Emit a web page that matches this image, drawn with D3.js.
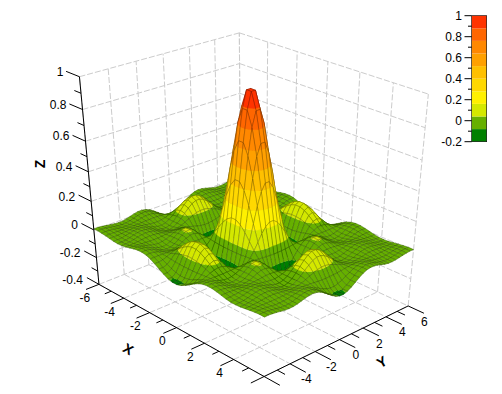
<!DOCTYPE html>
<html><head><meta charset="utf-8"><script src="https://cdn.jsdelivr.net/npm/d3@7"></script>
<style>html,body{margin:0;padding:0;background:#fff}svg{display:block}text{font-family:"Liberation Sans",Helvetica,Arial,sans-serif;fill:#000}</style></head>
<body><div id="c"></div>
<script>
// Surface heights (z x 1000), one quadrant; the surface is mirrored about x=0 and y=0.
const zQuadrant=[
[972,867,677,438,194,-12,-152,-212,-196,-127,-34,53,111,126,101,49,-12,-63,-88,-84],
[867,773,603,390,173,-11,-136,-189,-175,-113,-30,48,99,112,90,43,-11,-56,-79,-75],
[677,603,471,305,135,-9,-106,-147,-137,-88,-23,37,77,88,70,34,-9,-44,-61,-58],
[438,390,305,197,87,-6,-68,-95,-88,-57,-15,24,50,57,46,22,-6,-28,-40,-38],
[194,173,135,87,39,-2,-30,-42,-39,-25,-7,11,22,25,20,10,-2,-13,-18,-17],
[-12,-11,-9,-6,-2,0,2,3,2,2,0,-1,-1,-2,-1,-1,0,1,1,1],
[-152,-136,-106,-68,-30,2,24,33,31,20,5,-8,-17,-20,-16,-8,2,10,14,13],
[-212,-189,-147,-95,-42,3,33,46,43,28,7,-12,-24,-27,-22,-11,3,14,19,18],
[-196,-175,-137,-88,-39,2,31,43,40,26,7,-11,-22,-25,-20,-10,2,13,18,17],
[-127,-113,-88,-57,-25,2,20,28,26,17,4,-7,-14,-17,-13,-6,2,8,12,11],
[-34,-30,-23,-15,-7,0,5,7,7,4,1,-2,-4,-4,-4,-2,0,2,3,3],
[53,48,37,24,11,-1,-8,-12,-11,-7,-2,3,6,7,6,3,-1,-3,-5,-5],
[111,99,77,50,22,-1,-17,-24,-22,-14,-4,6,13,14,12,6,-1,-7,-10,-10],
[126,112,88,57,25,-2,-20,-27,-25,-17,-4,7,14,16,13,6,-2,-8,-11,-11],
[101,90,70,46,20,-1,-16,-22,-20,-13,-4,6,12,13,11,5,-1,-7,-9,-9],
[49,43,34,22,10,-1,-8,-11,-10,-6,-2,3,6,6,5,2,-1,-3,-4,-4],
[-12,-11,-9,-6,-2,0,2,3,2,2,0,-1,-1,-2,-1,-1,0,1,1,1],
[-63,-56,-44,-28,-13,1,10,14,13,8,2,-3,-7,-8,-7,-3,1,4,6,5],
[-88,-79,-61,-40,-18,1,14,19,18,12,3,-5,-10,-11,-9,-4,1,6,8,8],
[-84,-75,-58,-38,-17,1,13,18,17,11,3,-5,-10,-11,-9,-4,1,5,8,7]];
const colorLevels=[-.2,-.08,.04,.16,.28,.4,.52,.64,.76,.88,1];
const bandColors=["#008000","#66b000","#d4e800","#fff000","#ffd800","#ffc000","#ffa000","#ff8800","#ff6600","#ff3300"];
const xyMajorTicks=[-6,-4,-2,0,2,4,6];
const xyMinorTicks=[-5,-3,-1,1,3,5];
const xLabels=[-6,-4,-2,0,2,4];
const yLabels=[-4,-2,0,2,4,6];
const zMajorTicks=[-.4,-.2,0,.2,.4,.6,.8,1];
const zMinorTicks=[-.3,-.1,.1,.3,.5,.7,.9];
const barMajorTicks=[-.2,0,.2,.4,.6,.8,1];
const barMinorTicks=[-.1,.1,.3,.5,.7,.9];

const W=502,H=394,N=40;
const cam=[70.662,85.252,-21.286,251.196,25.578,-18.926,-162.011,240.103,-0.06042,0.04512,-0.08397];
const unit=d3.scaleLinear().domain([-6,6]).range([-1,1]);
const gridX=d3.scaleLinear().domain([0,N-1]).range([-6,6]);
const fold=i=>i<N/2?N/2-1-i:i-N/2;
const zAt=(i,j)=>zQuadrant[fold(i)][fold(j)]/1000;
function proj(x,y,z){const X=unit(x),Y=unit(y),w=cam[8]*X+cam[9]*Y+cam[10]*z+1;return [(cam[0]*X+cam[1]*Y+cam[2]*z+cam[3])/w,(cam[4]*X+cam[5]*Y+cam[6]*z+cam[7])/w];}
const svg=d3.select("#c").append("svg").attr("width",W).attr("height",H);
const line=d3.line();
const bandColor=d3.scaleThreshold().domain(colorLevels.slice(1,-1)).range(bandColors);
function clip(poly,lev,above){const out=[];for(let i=0;i<poly.length;i++){const a=poly[i],b=poly[(i+1)%poly.length];const ia=above?a[2]>=lev:a[2]<=lev,ib=above?b[2]>=lev:b[2]<=lev;if(ia)out.push(a);if(ia!==ib){const t=(lev-a[2])/(b[2]-a[2]);out.push([a[0]+t*(b[0]-a[0]),a[1]+t*(b[1]-a[1]),lev]);}}return out;}
const pth=p=>line(p.map(q=>proj(q[0],q[1],q[2])))+"Z";
function gl(a,b){svg.append("path").attr("d",line([proj(...a),proj(...b)])).attr("stroke","#ccc").attr("stroke-dasharray","6,2").attr("fill","none");}
xyMajorTicks.forEach(t=>{gl([-6,t,-.4],[-6,t,1]);gl([t,6,-.4],[t,6,1]);gl([t,-6,-.4],[t,6,-.4]);gl([-6,t,-.4],[6,t,-.4]);});
zMajorTicks.slice(1).forEach(z=>{gl([-6,-6,z],[-6,6,z]);gl([-6,6,z],[6,6,z]);});
const g=svg.append("g");
for(let i=0;i<N-1;i++)for(let j=N-2;j>=0;j--){
 const q=[[i,j],[i+1,j],[i+1,j+1],[i,j+1]].map(([a,b])=>[gridX(a),gridX(b),zAt(a,b)]);
 bandColors.forEach((c,k)=>{let p=k===0?q:clip(q,colorLevels[k],true);if(p.length<3)return;if(k<bandColors.length-1)p=clip(p,colorLevels[k+1],false);if(p.length<3)return;const col=bandColor((colorLevels[k]+colorLevels[k+1])/2);g.append("path").attr("d",pth(p)).attr("fill",col).attr("stroke",col).attr("stroke-width",.3);});
 g.append("path").attr("d",pth(q)).attr("fill","none").attr("stroke","#000").attr("stroke-opacity",.55).attr("stroke-width",.4);
}
function bl(a,b){svg.append("path").attr("d",line([proj(...a),proj(...b)])).attr("stroke","#000").attr("fill","none");}
function tx(x,y,s,anc){return svg.append("text").attr("x",x).attr("y",y).attr("text-anchor",anc||"middle").style("font-size","12px").text(s);}
bl([-6,-6,-.4],[-6,-6,1]);bl([-6,-6,-.4],[6,-6,-.4]);bl([6,-6,-.4],[6,6,-.4]);
xyMajorTicks.forEach(t=>{bl([t,-6,-.4],[t,-7,-.4]);bl([6,t,-.4],[7,t,-.4]);});
xyMinorTicks.forEach(t=>{bl([t,-6,-.4],[t,-6.5,-.4]);bl([6,t,-.4],[6.5,t,-.4]);});
xLabels.forEach(t=>{const a=proj(t,-6,-.4);tx(a[0]-14.2,a[1]+17.3,t);});
yLabels.forEach(t=>{const a=proj(6,t,-.4);tx(a[0]+16.3,a[1]+19.6,t);});
zMajorTicks.forEach(z=>{bl([-6,-6,z],[-7,-6,z]);const a=proj(-6,-6,z);tx(a[0]-16,a[1]-.7,z,"end");});
zMinorTicks.forEach(z=>bl([-6,-6,z],[-6.5,-6,z]));
function title(x,y,s,r){svg.append("text").attr("transform",`translate(${x},${y}) rotate(${r})`).attr("text-anchor","middle").attr("dy","0.36em").style("font-size","14px").style("font-weight","bold").text(s);}
title(128.3,349,"X",30);title(381.7,361.7,"Y",-30);title(40,164,"Z",-90);
const cy=d3.scaleLinear().domain([-.2,1]).range([141.7,15.7]);
bandColors.forEach((c,k)=>svg.append("rect").attr("x",471.7).attr("width",15).attr("y",cy(colorLevels[k+1])).attr("height",cy(colorLevels[k])-cy(colorLevels[k+1])).attr("fill",c));
svg.append("rect").attr("x",471.7).attr("width",15).attr("y",15.7).attr("height",126).attr("fill","none").attr("stroke","#000").attr("stroke-width",.6);
barMajorTicks.forEach(z=>{const y=cy(z);svg.append("line").attr("x1",471.7).attr("x2",464.5).attr("y1",y).attr("y2",y).attr("stroke","#000");tx(462,y+4.2,z,"end");});
barMinorTicks.forEach(z=>{const y=cy(z);svg.append("line").attr("x1",471.7).attr("x2",468).attr("y1",y).attr("y2",y).attr("stroke","#000");});
</script></body></html>
